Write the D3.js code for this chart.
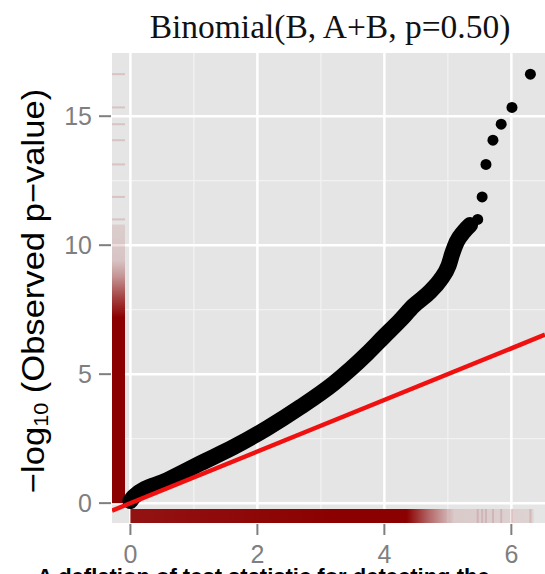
<!DOCTYPE html>
<html>
<head>
<meta charset="utf-8">
<script src="https://cdn.jsdelivr.net/npm/d3@7"></script>
<style>
  body { margin: 0; background: #fff; }
  svg { display: block; }
</style>
</head>
<body>
<svg id="svg_qq" width="545" height="574"></svg>
<script>
// dense part of the QQ cloud (read along the centre of the black band)
var expectedDense = [0, 0.05, 0.58, 1.10, 1.63, 2.15, 2.68, 3.20, 3.73, 3.99, 4.25, 4.46, 4.72, 4.88, 5.01, 5.07, 5.14, 5.25, 5.35];
var observedDense = [0.08, 0.24, 0.89, 1.54, 2.18, 2.90, 3.73, 4.64, 5.80, 6.45, 7.09, 7.65, 8.20, 8.65, 9.20, 9.68, 10.13, 10.52, 10.78];
// the separate points at the top
var expectedTop = [5.47, 5.54, 5.60, 5.71, 5.84, 6.01, 6.30];
var observedTop = [11.00, 11.87, 13.13, 14.07, 14.69, 15.34, 16.63];
// rug density, read as opacity along each axis
var rugXStop = [0, 3.3, 4.35, 4.7, 5.1, 6.35];
var rugXOpacity = [0.92, 1, 1, 0.55, 0.12, 0.08];
var rugYStop = [0, 7.2, 8.0, 8.8, 9.4, 10.8];
var rugYOpacity = [1, 1, 0.7, 0.35, 0.15, 0.1];

var xTicks = [0, 2, 4, 6],
    xMinor = [1, 3, 5],
    yTicks = [0, 5, 10, 15],
    yMinor = [2.5, 7.5, 12.5];

var svg = d3.select("#svg_qq"),
    panel = {left: 112, right: 545, top: 53, bottom: 523};

var x = d3.scaleLinear().domain([-0.29, 6.53]).range([panel.left, panel.right]);
var y = d3.scaleLinear().domain([-0.77, 17.45]).range([panel.bottom, panel.top]);

var defs = svg.append("defs");
defs.append("clipPath").attr("id", "clip")
  .append("rect")
    .attr("x", panel.left).attr("y", panel.top)
    .attr("width", panel.right - panel.left).attr("height", panel.bottom - panel.top);

var gx = defs.append("linearGradient").attr("id", "rugx")
    .attr("gradientUnits", "userSpaceOnUse")
    .attr("x1", x(rugXStop[0])).attr("x2", x(rugXStop[rugXStop.length - 1]))
    .attr("y1", 0).attr("y2", 0);
gx.selectAll("stop").data(rugXStop).enter().append("stop")
    .attr("offset", function(d) { return (d - rugXStop[0]) / (rugXStop[rugXStop.length - 1] - rugXStop[0]); })
    .attr("stop-color", "#8b0000")
    .attr("stop-opacity", function(d, i) { return rugXOpacity[i]; });

var gy = defs.append("linearGradient").attr("id", "rugy")
    .attr("gradientUnits", "userSpaceOnUse")
    .attr("x1", 0).attr("x2", 0)
    .attr("y1", y(rugYStop[0])).attr("y2", y(rugYStop[rugYStop.length - 1]));
gy.selectAll("stop").data(rugYStop).enter().append("stop")
    .attr("offset", function(d) { return (d - rugYStop[0]) / (rugYStop[rugYStop.length - 1] - rugYStop[0]); })
    .attr("stop-color", "#8b0000")
    .attr("stop-opacity", function(d, i) { return rugYOpacity[i]; });

// panel background + grid
svg.append("rect")
    .attr("x", panel.left).attr("y", panel.top)
    .attr("width", panel.right - panel.left).attr("height", panel.bottom - panel.top)
    .attr("fill", "#e5e5e5");

var g = svg.append("g").attr("clip-path", "url(#clip)");

g.selectAll(".vminor").data(xMinor).enter().append("line")
    .attr("x1", x).attr("x2", x).attr("y1", panel.top).attr("y2", panel.bottom)
    .attr("stroke", "#f2f2f2").attr("stroke-width", 1.3);
g.selectAll(".hminor").data(yMinor).enter().append("line")
    .attr("y1", y).attr("y2", y).attr("x1", panel.left).attr("x2", panel.right)
    .attr("stroke", "#f2f2f2").attr("stroke-width", 1.3);
g.selectAll(".vmajor").data(xTicks).enter().append("line")
    .attr("x1", x).attr("x2", x).attr("y1", panel.top).attr("y2", panel.bottom)
    .attr("stroke", "#fff").attr("stroke-width", 2.5);
g.selectAll(".hmajor").data(yTicks).enter().append("line")
    .attr("y1", y).attr("y2", y).attr("x1", panel.left).attr("x2", panel.right)
    .attr("stroke", "#fff").attr("stroke-width", 2.5);

// rugs
var rugLenX = 14, rugLenY = 13;
g.append("rect")
    .attr("x", x(rugXStop[0])).attr("y", panel.bottom - rugLenX)
    .attr("width", x(rugXStop[rugXStop.length - 1]) - x(rugXStop[0])).attr("height", rugLenX)
    .attr("fill", "url(#rugx)");
g.append("rect")
    .attr("x", panel.left).attr("y", y(rugYStop[rugYStop.length - 1]))
    .attr("width", rugLenY).attr("height", y(rugYStop[0]) - y(rugYStop[rugYStop.length - 1]))
    .attr("fill", "url(#rugy)");
g.selectAll(".rugtx").data(expectedTop).enter().append("line")
    .attr("x1", x).attr("x2", x).attr("y1", panel.bottom - rugLenX).attr("y2", panel.bottom)
    .attr("stroke", "#8b0000").attr("stroke-opacity", 0.12).attr("stroke-width", 2);
g.selectAll(".rugty").data(observedTop).enter().append("line")
    .attr("y1", y).attr("y2", y).attr("x1", panel.left).attr("x2", panel.left + rugLenY)
    .attr("stroke", "#8b0000").attr("stroke-opacity", 0.15).attr("stroke-width", 2);

// points
var densePts = expectedDense.map(function(d, i) { return {e: d, o: observedDense[i]}; });
var topPts = expectedTop.map(function(d, i) { return {e: d, o: observedTop[i]}; });

var cloud = d3.line()
    .x(function(d) { return x(d.e); })
    .y(function(d) { return y(d.o); })
    .curve(d3.curveMonotoneX);

g.append("path")
    .datum(densePts)
    .attr("d", cloud)
    .attr("fill", "none")
    .attr("stroke", "#000")
    .attr("stroke-width", 16)
    .attr("stroke-linecap", "round")
    .attr("stroke-linejoin", "round");

g.selectAll(".pt").data(topPts).enter().append("circle")
    .attr("cx", function(d) { return x(d.e); })
    .attr("cy", function(d) { return y(d.o); })
    .attr("r", 5.5)
    .attr("fill", "#000");

// y = x reference line
var xd = x.domain();
g.append("line")
    .attr("x1", x(xd[0])).attr("y1", y(xd[0]))
    .attr("x2", x(xd[1])).attr("y2", y(xd[1]))
    .attr("stroke", "#f01010").attr("stroke-width", 4.5);

// axes
var tickCol = "#7f7f7f";
svg.selectAll(".xt").data(xTicks).enter().append("line")
    .attr("x1", x).attr("x2", x).attr("y1", panel.bottom + 1).attr("y2", panel.bottom + 12)
    .attr("stroke", tickCol).attr("stroke-width", 2);
svg.selectAll(".xl").data(xTicks).enter().append("text")
    .attr("x", x).attr("y", 563)
    .attr("text-anchor", "middle")
    .style("font", "25px 'Liberation Sans', Arial, sans-serif")
    .attr("fill", tickCol)
    .text(function(d) { return d; });
svg.selectAll(".yt").data(yTicks).enter().append("line")
    .attr("y1", y).attr("y2", y).attr("x1", panel.left - 13).attr("x2", panel.left - 1)
    .attr("stroke", tickCol).attr("stroke-width", 2);
svg.selectAll(".yl").data(yTicks).enter().append("text")
    .attr("x", 92).attr("y", y).attr("dy", "0.36em")
    .attr("text-anchor", "end")
    .style("font", "25px 'Liberation Sans', Arial, sans-serif")
    .attr("fill", tickCol)
    .text(function(d) { return d; });

// y title
var yt = svg.append("text")
    .attr("transform", "translate(44,291) rotate(-90) scale(1.08,1)")
    .attr("text-anchor", "middle")
    .style("font", "32px 'Liberation Sans', Arial, sans-serif")
    .attr("fill", "#000");
yt.append("tspan").text("\u2212log");
yt.append("tspan").attr("baseline-shift", "-4").style("font-size", "20px").text("10");
yt.append("tspan").text(" (Observed p\u2212value)");

// main title
svg.append("text")
    .attr("x", 330).attr("y", 38)
    .attr("text-anchor", "middle")
    .style("font", "33.5px 'Liberation Serif', 'Times New Roman', serif")
    .attr("fill", "#111")
    .text("Binomial(B, A+B, p=0.50)");

// caption cut off at the bottom edge
svg.append("text")
    .attr("x", 37).attr("y", 584)
    .style("font", "bold 22px 'Liberation Sans', Arial, sans-serif")
    .attr("fill", "#000")
    .text("A deflation of test statistic for detecting the");
</script>
</body>
</html>
